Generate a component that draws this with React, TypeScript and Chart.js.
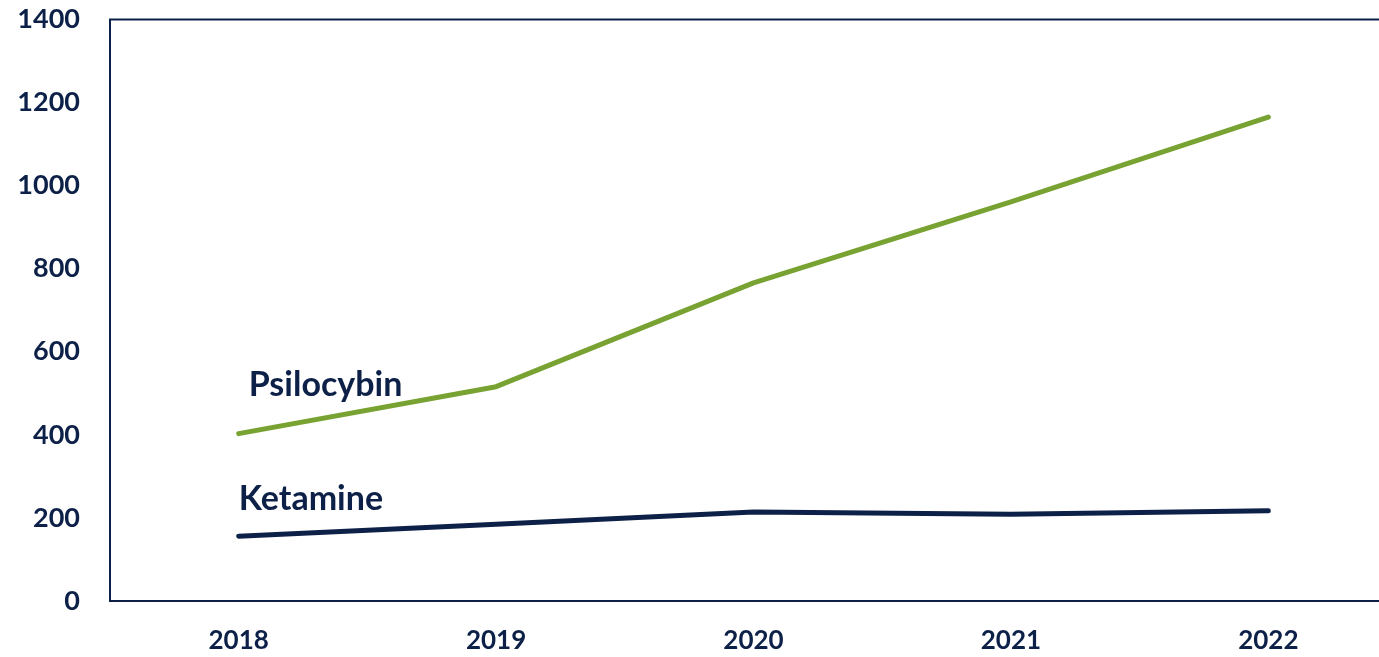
import React, { useEffect, useRef } from "react";
import { Chart, registerables } from "chart.js";

Chart.register(...registerables);

const years = ["2018", "2019", "2020", "2021", "2022"];
const psilocybin = [403, 516, 766, 961, 1165];
const ketamine = [156, 185, 214, 209, 217];
const yTicks = [0, 200, 400, 600, 800, 1000, 1200, 1400];

const NAVY = "#0D2148";
const GREEN = "#78A232";
const FONT = "Lato, 'Open Sans', sans-serif";

const seriesLabels = {
  id: "seriesLabels",
  afterDatasetsDraw(chart: any) {
    const { ctx, scales } = chart;
    const x = scales.x;
    const y = scales.y;
    ctx.save();
    ctx.fillStyle = NAVY;
    ctx.font = `bold 34px ${FONT}`;
    ctx.textAlign = "left";
    ctx.textBaseline = "alphabetic";
    ctx.fillText("Psilocybin", x.getPixelForValue(0) + 10, y.getPixelForValue(psilocybin[0]) - 38);
    ctx.fillText("Ketamine", x.getPixelForValue(0) + 0, y.getPixelForValue(ketamine[0]) - 26);
    ctx.restore();
  },
};

const frame = {
  id: "frame",
  afterDraw(chart: any) {
    const { ctx, chartArea } = chart;
    ctx.save();
    ctx.strokeStyle = NAVY;
    ctx.lineWidth = 2;
    ctx.strokeRect(chartArea.left, chartArea.top, chartArea.right - chartArea.left, chartArea.bottom - chartArea.top);
    ctx.restore();
  },
};

export default function App() {
  const ref = useRef<HTMLCanvasElement | null>(null);

  useEffect(() => {
    if (!ref.current) return;
    const chart = new Chart(ref.current, {
      type: "line",
      data: {
        labels: years,
        datasets: [
          {
            label: "Psilocybin",
            data: psilocybin,
            borderColor: GREEN,
            backgroundColor: GREEN,
            borderWidth: 5,
            pointRadius: 0,
            tension: 0,
            borderCapStyle: "round",
            borderJoinStyle: "round",
          },
          {
            label: "Ketamine",
            data: ketamine,
            borderColor: NAVY,
            backgroundColor: NAVY,
            borderWidth: 5,
            pointRadius: 0,
            tension: 0,
            borderCapStyle: "round",
            borderJoinStyle: "round",
          },
        ],
      },
      options: {
        animation: false,
        responsive: false,
        maintainAspectRatio: false,
        layout: { padding: { top: 19.5, right: 3, bottom: 0, left: 0 } },
        plugins: {
          legend: { display: false },
          tooltip: { enabled: false },
        },
        scales: {
          x: {
            type: "category",
            offset: true,
            grid: { display: false, drawTicks: false },
            border: { display: false },
            ticks: {
              color: NAVY,
              font: { family: FONT, size: 26, weight: "bold" },
              padding: 24,
              maxRotation: 0,
            },
            afterFit(scale: any) {
              scale.height = 56;
              scale.paddingLeft = 0;
              scale.paddingRight = 0;
            },
          },
          y: {
            min: 0,
            max: 1400,
            afterBuildTicks(scale: any) {
              scale.ticks = yTicks.map((v) => ({ value: v }));
            },
            grid: { display: false, drawTicks: false },
            border: { display: false },
            ticks: {
              color: NAVY,
              font: { family: FONT, size: 27, weight: "bold" },
              padding: 30,
              callback: (v: any) => String(v),
            },
            afterFit(scale: any) {
              scale.width = 110;
              scale.paddingTop = 0;
              scale.paddingBottom = 0;
            },
          },
        },
      },
      plugins: [frame, seriesLabels],
    });
    return () => chart.destroy();
  }, []);

  return (
    <div
      style={{
        position: "fixed",
        left: 0,
        top: 0,
        width: 1379,
        height: 657,
        overflow: "hidden",
        background: "#fff",
      }}
    >
      <canvas ref={ref} width={1400} height={657} style={{ display: "block", width: 1400, height: 657 }} />
    </div>
  );
}
